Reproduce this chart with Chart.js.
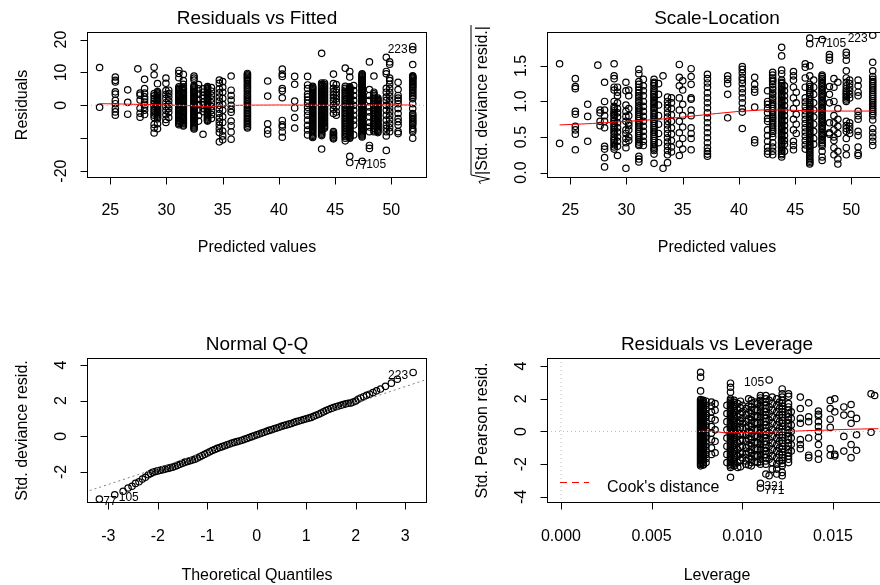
<!DOCTYPE html>
<html>
<head>
<meta charset="utf-8">
<script src="https://cdn.jsdelivr.net/npm/chart.js@4.4.0/dist/chart.umd.min.js"></script>
<style>
  html, body { margin: 0; padding: 0; background: #fff; }
  #wrap { position: relative; width: 880px; height: 585px; overflow: hidden; }
  canvas { position: absolute; }
</style>
</head>
<body>
<div id="wrap">
  <canvas id="rvf" width="440" height="260" style="left:0;top:0"></canvas>
  <canvas id="sl" width="460" height="260" style="left:440px;top:0"></canvas>
  <canvas id="qq" width="440" height="260" style="left:0;top:326px"></canvas>
  <canvas id="lev" width="460" height="260" style="left:440px;top:326px"></canvas>
</div>
<script>
const FONT = '"Liberation Sans", Arial, Helvetica, sans-serif';

// fitted values: one entry per vertical strip (shared by the two top panels)
const fittedCols = [24.05, 25.45, 26.55, 27.45, 27.65, 28.05, 28.9, 29.2, 29.95, 30.2,
  31.1, 31.5, 32.45, 32.85, 33.25, 33.65, 34.0, 34.7, 35.0, 35.75,
  37.2, 39.0, 40.3, 41.4, 42.55, 43.0, 43.8, 44.05, 44.85, 45.1,
  45.9, 46.3, 46.65, 47.4, 48.05, 48.45, 48.8, 49.55, 49.85, 50.6, 51.9];

// residuals in each strip
const residCols = [
  [11.5, -0.6],
  [8.6, 7.6, 7.1, 4.1, 3.4, 1.5, 0.5, -1.0, -2.0, -3.0],
  [4.7, 0.9, -2.7],
  [11.1],
  [3.7, 3.1, 1.6, -0.9, -2.4, -3.6],
  [7.9, 5.1, 3.7, 2.6, 1.9, 1.0, 0.1, -0.6, -1.5, -2.8],
  [11.6, 9.3, 3.6, 2.9, 2.1, 1.3, 0.6, -0.2, -0.9, -1.6, -2.3, -3.0, -3.7, -5.8, -6.9, -8.4],
  [6.6, 4.2, 3.4, 2.6, 1.8, 1.1, 0.3, -0.5, -1.2, -1.9, -2.6, -3.3, -4.1, -5.6, -7.1,
    3.8, 3.0, 2.2, 1.45, 0.7, -0.1, -0.85, -1.55, -2.25, -2.95, -3.7],
  [8.3, 6.7, 4.5, 3.3, 2.1, 0.8, -0.4, -1.6, -2.9, -4.3, -5.2],
  [4.6, 3.6, 2.5, 1.4, 0.2, -1.0, -2.1, -3.7],
  [10.6, 9.7, 8.4, 5.6, 4.8, 4.1, 3.4, 2.6, 1.9, 1.2, 0.5, -0.2, -0.9, -1.6, -2.4, -3.1, -3.8, -4.5, -5.1, -5.9,
    5.2, 4.45, 3.75, 3.0, 2.25, 1.55, 0.85, 0.15, -0.55, -1.25, -2.0, -2.75, -3.45, -4.15, -4.8, -5.5],
  [9.4, 7.5, 6.4, 5.1, 4.3, 3.5, 2.8, 2.0, 1.4, 0.7, 0.0, -0.7, -1.5, -2.1, -2.9, -3.6, -4.2, -5.0, -5.6, -6.3,
    5.5, 4.7, 3.9, 3.15, 2.4, 1.7, 1.05, 0.35, -0.35, -1.1, -1.8, -2.5, -3.25, -3.9, -4.6, -5.3, -6.0],
  [8.9, 8.3, 7.7, 6.1, 5.3, 4.6, 3.9, 3.1, 2.4, 1.7, 1.0, 0.3, -0.4, -1.1, -1.9, -2.6, -3.2, -3.9, -4.6, -5.3, -6.0, -6.6, -7.2,
    5.7, 4.95, 4.25, 3.5, 2.75, 2.05, 1.35, 0.65, -0.05, -0.75, -1.5, -2.25, -2.9, -3.55, -4.25, -4.95, -5.65, -6.3, -6.9],
  [6.3, 5.0, 3.4, 1.8, 0.2, -1.4, -3.1, -4.8],
  [5.0, 4.0, 3.0, 2.1, 1.0, 0.1, -1.0, -1.9, -8.8],
  [5.7, 5.0, 4.3, 3.6, 2.9, 2.1, 1.4, 0.7, 0.0, -0.7, -1.4, -2.1, -2.8, -3.5, -4.2, -4.8,
    5.35, 4.65, 3.95, 3.25, 2.5, 1.75, 1.05, 0.35, -0.35, -1.05, -1.75, -2.45, -3.15, -3.85, -4.5],
  [5.4, 4.3, 3.1, 1.9, 0.8, -0.4, -1.6, -2.8, -4.0],
  [7.7, 6.7, 5.0, 3.8, 2.5, 1.3, 0.0, -1.2, -2.5, -3.8, -5.0, -6.0, -7.1, -8.3, -11.1],
  [7.2, 5.5, 4.0, 2.1, 0.3, -1.5, -3.5, -5.2, -7.8, -9.3, -10.5],
  [8.9, 4.6, 3.0, 1.6, 0.0, -1.2, -2.1, -4.8, -6.2, -8.1, -10.3],
  [9.7, 8.9, 8.1, 7.2, 6.1, 5.1, 4.1, 3.0, 2.0, 1.0, 0.0, -1.0, -2.0, -3.0, -4.0, -5.0, -6.0, -6.9,
    9.3, 8.5, 7.6, 6.6, 5.6, 4.6, 3.5, 2.5, 1.5, 0.5, -0.5, -1.5, -2.5, -3.5, -4.5, -5.5, -6.5],
  [7.4, 2.8, -5.6, -7.6, -8.7],
  [11.0, 9.5, 8.8, 5.1, 4.4, 2.3, -4.6, -5.9, -6.6, -8.1, -9.7],
  [8.8, 6.4, 1.3, -0.8, -3.7, -6.9],
  [8.8, 6.2, 5.1, 3.4, 2.6, 1.6, 0.6, -0.6, -1.8, -3.0, -4.5, -6.1, -7.5, -9.0],
  [5.8, 5.1, 4.4, 3.7, 3.0, 2.3, 1.6, 0.9, 0.2, -0.5, -1.2, -1.9, -2.6, -3.3, -4.0, -4.7, -5.4, -6.1, -6.8, -7.5, -8.3, -9.1, -9.8,
    5.45, 4.75, 4.05, 3.35, 2.65, 1.95, 1.25, 0.55, -0.15, -0.85, -1.55, -2.25, -2.95, -3.65, -4.35, -5.05, -5.75, -6.45, -7.15, -7.9, -8.7, -9.45],
  [15.8, 6.8, 6.0, 5.2, 4.4, 3.6, 2.8, 2.0, 1.2, 0.4, -0.4, -1.2, -2.0, -2.8, -3.6, -4.4, -5.2, -6.0, -6.8, -7.6, -8.4, -9.2, -13.3,
    6.4, 5.6, 4.8, 4.0, 3.2, 2.4, 1.6, 0.8, 0.0, -0.8, -1.6, -2.4, -3.2, -4.0, -4.8, -5.6, -6.4, -7.2, -8.0, -8.8],
  [6.8, 5.8, 4.8, 3.8, 2.8, 1.8, 0.8, -0.2, -1.2, -2.2, -3.2, -4.2, -5.2, -6.2, -7.0,
    6.3, 5.3, 4.3, 3.3, 2.3, 1.3, 0.3, -0.7, -1.7, -2.7, -3.7, -4.7, -5.7, -6.6],
  [9.5, 6.6, 5.2, 4.2, 3.2, 2.2, 1.2, 0.0, -1.2, -2.5, -8.0, -8.8, -9.6, -10.2, -8.4, -9.2, -9.9],
  [6.3, 5.0, 4.0, 3.0, 2.0, 1.0, -0.5, -2.0, -3.0],
  [11.3, 5.8, 4.6, 3.6, 2.5, 1.5, 0.5, -0.5, -1.5, -2.5, -3.5, -4.5, -5.5, -6.5, -7.5, -8.5, -9.5, -10.8,
    5.2, 4.1, 3.0, 2.0, 1.0, 0.0, -1.0, -2.0, -3.0, -4.0, -5.0, -6.0, -7.0, -8.0, -9.0, -10.0],
  [10.3, 8.6, 5.6, 5.0, 4.4, 3.8, 3.2, 2.6, 2.0, 1.4, 0.8, 0.2, -0.4, -1.0, -1.6, -2.2, -2.8, -3.4, -4.0, -4.6, -5.2, -5.8, -6.4, -7.0, -7.6, -8.2, -8.8, -9.4, -10.0, -15.5, -17.4,
    5.3, 4.7, 4.1, 3.5, 2.9, 2.3, 1.7, 1.1, 0.5, -0.1, -0.7, -1.3, -1.9, -2.5, -3.1, -3.7, -4.3, -4.9, -5.5, -6.1, -6.7, -7.3, -7.9, -8.5, -9.1, -9.7],
  [6.0, 4.5, 3.0, 1.5, 0.0, -1.5, -3.0, -4.5, -6.0, -9.0],
  [9.6, 9.0, 8.4, 7.8, 7.2, 6.6, 6.0, 5.4, 4.8, 4.2, 3.6, 3.0, 2.4, 1.8, 1.2, 0.6, 0.0, -0.6, -1.2, -1.8, -2.4, -3.0, -3.6, -4.2, -4.8, -5.4, -6.0, -6.6, -7.2, -7.8, -8.4, -9.0, -9.6, -17.0,
    9.3, 8.7, 8.1, 7.5, 6.9, 6.3, 5.7, 5.1, 4.5, 3.9, 3.3, 2.7, 2.1, 1.5, 0.9, 0.3, -0.3, -0.9, -1.5, -2.1, -2.7, -3.3, -3.9, -4.5, -5.1, -5.7, -6.3, -6.9, -7.5, -8.1, -8.7, -9.3],
  [13.2, 4.8, 3.0, 1.5, -0.5, -2.0, -3.5, -5.2, -6.6, -8.0, -12.2, -13.1],
  [8.9, 4.0, 3.0, 2.0, 1.0, 0.0, -1.0, -2.0, -3.0, -4.0, -5.0, -6.0, -7.0, -8.0,
    3.5, 2.5, 1.5, 0.5, -0.5, -1.5, -2.5, -3.5, -4.5, -5.5, -6.5, -7.5],
  [2.2, 1.5, 0.8, 0.1, -0.6, -1.3, -2.0, -2.7, -3.4, -4.1, -4.8, -5.5, -6.2, -6.9, -7.6, -8.3,
    1.85, 1.15, 0.45, -0.25, -0.95, -1.65, -2.35, -3.05, -3.75, -4.45, -5.15, -5.85, -6.55, -7.25, -7.95],
  [14.6, 10.3, 9.6, 5.2, 4.0, 2.5, 1.5, 0.0, -1.5, -3.0, -4.5, -6.0, -7.0, -8.0, -9.3, -13.7],
  [13.2, 12.5, 8.3, 7.5, 6.4, 5.2, 4.0, 2.8, 1.6, 0.4, -0.8, -2.0, -3.2, -4.4, -5.6, -6.8, -8.0],
  [7.0, 4.8, 3.0, 2.2, 1.5, 0.5, -1.0, -2.5, -4.0, -5.0, -6.0, -8.0, -8.6],
  [17.9, 16.9, 12.4, 9.0, 8.5, 8.0, 7.2, 6.5, 5.8, 5.0, 4.0, 3.0, 2.0, 0.5, -1.0, -2.5, -3.5, -4.5, -5.5, -7.0, -8.0, -10.0,
    8.75, 8.25, 7.6, 6.85, 6.15, 5.4, 4.5, 3.5, 2.5, -3.0, -4.0, -5.0, -6.0, -7.5]
];

// sqrt(|std. deviance residual|) in each strip
const sqrtResidCols = [
  [1.53, 0.41],
  [1.32, 1.21, 1.18, 0.86, 0.82, 0.65, 0.6, 0.54, 0.32],
  [0.96, 0.79, 0.44],
  [1.51],
  [0.88, 0.84, 0.72, 0.66],
  [1.27, 1.0, 0.88, 0.8, 0.72, 0.63, 0.37, 0.33, 0.21, 0.08],
  [1.53, 1.36, 1.32, 1.2, 1.16, 1.0, 0.93, 0.87, 0.82, 0.77, 0.72, 0.66, 0.6, 0.54, 0.47, 0.42, 0.36, 0.33,
    0.9, 0.84, 0.8, 0.74, 0.69, 0.63, 0.57, 0.5, 0.45, 0.39],
  [1.2, 1.13, 1.08, 0.98, 0.9, 0.84, 0.78, 0.7, 0.63, 0.57, 0.5, 0.44, 0.37, 0.24],
  [1.27, 1.15, 0.95, 0.86, 0.79, 0.72, 0.6, 0.55, 0.48, 0.42, 0.35, 0.06],
  [1.16, 1.08, 0.9, 0.8, 0.7, 0.66, 0.6, 0.5, 0.45],
  [1.45, 1.39, 1.28, 1.2, 1.12, 1.05, 0.98, 0.91, 0.85, 0.79, 0.73, 0.67, 0.61, 0.55, 0.49, 0.43, 0.38, 0.23, 0.19, 0.15,
    1.24, 1.16, 1.08, 1.01, 0.94, 0.88, 0.82, 0.76, 0.7, 0.64, 0.58, 0.52, 0.46, 0.4],
  [1.31, 1.22, 1.15, 1.08, 1.0, 0.93, 0.86, 0.79, 0.72, 0.65, 0.58, 0.51, 0.44, 0.38],
  [1.31, 1.27, 1.22, 1.15, 1.1, 1.05, 1.0, 0.95, 0.9, 0.84, 0.78, 0.72, 0.66, 0.6, 0.54, 0.48, 0.42, 0.36, 0.31, 0.26, 0.13,
    1.25, 1.18, 1.12, 1.07, 1.02, 0.97, 0.92, 0.87, 0.81, 0.75, 0.69, 0.63, 0.57, 0.51, 0.45, 0.39, 0.33],
  [1.25, 1.1, 0.95, 0.8, 0.68, 0.55, 0.42],
  [1.36, 0.06],
  [1.06, 1.0, 0.95, 0.9, 0.84, 0.78, 0.72, 0.67, 0.61, 0.55, 0.49, 0.43, 0.37, 0.31, 0.25, 0.14],
  [1.05, 0.98, 0.9, 0.81, 0.72, 0.63, 0.54, 0.45, 0.36, 0.29],
  [1.52, 1.34, 1.22, 1.05, 0.88, 0.72, 0.56, 0.4, 0.24],
  [1.29, 1.16, 0.96, 0.8, 0.64, 0.48, 0.33],
  [1.46, 1.35, 1.24, 1.05, 1.03, 0.88, 0.8, 0.63, 0.55, 0.48, 0.32],
  [1.38, 1.32, 1.26, 1.2, 1.12, 1.05, 0.98, 0.91, 0.84, 0.77, 0.7, 0.63, 0.56, 0.49, 0.42, 0.35, 0.3, 0.26, 0.23],
  [1.36, 1.31, 1.25, 1.1, 0.77],
  [1.49, 1.45, 1.4, 1.34, 1.3, 1.25, 1.18, 1.12, 1.05, 0.98, 0.9, 0.85, 0.62],
  [1.34, 1.24, 1.17, 1.13, 0.92, 0.46, 0.42],
  [1.15, 1.0, 0.96, 0.9, 0.84, 0.76, 0.72, 0.6, 0.52, 0.44, 0.36, 0.3, 0.26],
  [1.41, 1.37, 1.33, 1.28, 1.2, 1.13, 1.06, 0.99, 0.93, 0.87, 0.81, 0.76, 0.7, 0.64, 0.58, 0.5, 0.42, 0.36, 0.3, 0.25,
    1.3, 1.24, 1.17, 1.1, 1.03, 0.96, 0.9, 0.84, 0.78, 0.73, 0.67, 0.61, 0.55],
  [1.76, 1.64, 1.44, 1.39, 1.27, 1.22, 1.17, 1.12, 1.07, 1.02, 0.97, 0.92, 0.87, 0.82, 0.77, 0.72, 0.67, 0.62, 0.57, 0.52, 0.47, 0.42, 0.37, 0.32, 0.27, 0.22,
    1.3, 1.25, 1.2, 1.15, 1.1, 1.05, 1.0, 0.95, 0.9, 0.85, 0.8, 0.75, 0.7, 0.65, 0.6, 0.55, 0.5, 0.45, 0.4, 0.35, 0.3, 0.25],
  [1.22, 1.15, 1.08, 1.01, 0.94, 0.87, 0.8, 0.73, 0.66, 0.59, 0.52, 0.45, 0.4, 0.3],
  [1.42, 1.36, 1.3, 1.2, 1.05, 0.9, 0.75, 0.6, 0.44, 0.38, 0.32],
  [1.13, 0.98, 0.82, 0.68, 0.55],
  [1.53, 1.48, 1.33, 1.2, 1.05, 0.99, 0.93, 0.87, 0.81, 0.75, 0.69, 0.63, 0.57, 0.51, 0.45, 0.39, 0.33],
  [1.89, 1.81, 1.5, 1.36, 1.21, 1.15, 1.1, 1.04, 0.98, 0.93, 0.88, 0.83, 0.78, 0.73, 0.68, 0.63, 0.58, 0.53, 0.48, 0.43, 0.38, 0.33, 0.28, 0.23, 0.18, 0.14, 0.12,
    1.24, 1.18, 1.12, 1.07, 1.01, 0.96, 0.9, 0.85, 0.8, 0.75, 0.7, 0.65, 0.6, 0.55, 0.5, 0.45, 0.4, 0.35, 0.3, 0.25, 0.2, 0.16],
  [1.3, 1.2, 1.1, 0.98, 0.88, 0.78, 0.68, 0.58, 0.48, 0.4],
  [1.87, 1.37, 1.32, 1.27, 1.22, 1.17, 1.12, 1.07, 1.02, 0.97, 0.92, 0.87, 0.82, 0.77, 0.72, 0.67, 0.62, 0.57, 0.52, 0.47, 0.42, 0.37, 0.3, 0.22, 0.17,
    1.35, 1.3, 1.25, 1.2, 1.15, 1.1, 1.05, 1.0, 0.95, 0.9, 0.85, 0.8, 0.75, 0.7, 0.65, 0.6, 0.55, 0.5, 0.45, 0.4],
  [1.66, 1.62, 1.58, 1.21, 1.1, 0.98, 0.7, 0.56, 0.54],
  [1.32, 1.2, 1.0, 0.8, 0.7, 0.6, 0.5, 0.45, 0.35, 0.25],
  [1.27, 0.9, 0.75, 0.65, 0.55, 0.3, 0.19, 0.12],
  [1.69, 1.65, 1.58, 1.43, 1.33, 1.22, 1.15, 1.1, 1.05, 1.0, 0.72, 0.66, 0.62, 0.58, 0.48, 0.35, 0.25,
    1.27, 1.18, 1.12, 1.07, 1.02],
  [1.3, 1.25, 1.2, 1.15, 1.1, 1.05, 0.7, 0.65, 0.6, 0.55],
  [1.3, 1.22, 1.13, 1.08, 0.86, 0.8, 0.75, 0.58, 0.52, 0.36, 0.27, 0.24],
  [1.93, 1.55, 1.43, 1.35, 1.28, 1.22, 1.16, 1.1, 1.04, 0.98, 0.92, 0.86, 0.8, 0.74, 0.62, 0.56, 0.5, 0.44, 0.38,
    1.31, 1.25, 1.19, 1.13, 1.07, 1.01, 0.95, 0.89, 0.83]
];

// red smoothers
const rvfSmoothX = [24.05, 26, 28, 30, 32, 33, 34, 35, 37, 40, 43, 45, 47, 49, 51.9];
const rvfSmoothY = [0.5, 0.4, 0.25, 0.1, -0.1, -0.3, -0.3, -0.1, 0.05, 0.1, 0.05, 0.0, 0.0, 0.1, 0.1];
const slSmoothX = [24.05, 27, 30, 33, 35, 38, 40, 42, 44, 46, 48, 50, 51.9];
const slSmoothY = [0.67, 0.69, 0.72, 0.75, 0.78, 0.83, 0.86, 0.88, 0.88, 0.87, 0.865, 0.865, 0.865];

// normal Q-Q
const qqTheoretical = [-3.18, -2.87, -2.70, -2.60, -2.52, -2.45, -2.38, -2.31, -2.25, -2.19, -2.14, -2.10,
  -2.05, -2.00, -1.95, -1.90, -1.85, -1.80, -1.75, -1.70, -1.65, -1.60, -1.55, -1.50, -1.45, -1.40,
  -1.35, -1.30, -1.25, -1.20, -1.15, -1.10, -1.05, -1.00, -0.95, -0.90, -0.85, -0.80, -0.75, -0.70,
  -0.65, -0.60, -0.55, -0.50, -0.45, -0.40, -0.35, -0.30, -0.25, -0.20, -0.15, -0.10, -0.05, 0.00,
  0.05, 0.10, 0.15, 0.20, 0.25, 0.30, 0.35, 0.40, 0.45, 0.50, 0.55, 0.60, 0.65, 0.70, 0.75, 0.80,
  0.85, 0.90, 0.95, 1.00, 1.05, 1.10, 1.15, 1.20, 1.25, 1.30, 1.35, 1.40, 1.45, 1.50, 1.55, 1.60,
  1.65, 1.70, 1.75, 1.80, 1.85, 1.90, 1.95, 2.00,
  2.05, 2.10, 2.16, 2.22, 2.28, 2.35, 2.42, 2.50, 2.60, 2.72, 2.84, 3.16];
const qqStdResid = [-3.52, -3.28, -3.08, -2.90, -2.80, -2.64, -2.55, -2.40, -2.30, -2.16, -2.08, -2.02,
  -1.98, -1.94, -1.90, -1.87, -1.84, -1.80, -1.77, -1.73, -1.68, -1.63, -1.57, -1.51, -1.45, -1.41,
  -1.37, -1.33, -1.28, -1.22, -1.15, -1.08, -1.01, -0.94, -0.87, -0.80, -0.74, -0.68, -0.63, -0.58,
  -0.53, -0.48, -0.43, -0.38, -0.34, -0.30, -0.26, -0.22, -0.17, -0.12, -0.07, -0.02, 0.03, 0.08,
  0.13, 0.18, 0.23, 0.28, 0.33, 0.37, 0.42, 0.46, 0.51, 0.56, 0.60, 0.64, 0.68, 0.72, 0.77, 0.82,
  0.86, 0.90, 0.94, 0.98, 1.02, 1.06, 1.12, 1.18, 1.24, 1.30, 1.37, 1.44, 1.50, 1.56, 1.61, 1.66,
  1.70, 1.74, 1.78, 1.82, 1.85, 1.87, 1.92, 1.98,
  2.08, 2.15, 2.22, 2.30, 2.36, 2.45, 2.55, 2.65, 2.80, 2.98, 3.20, 3.58];
const qqLineX = [-3.47, 3.45];
const qqLineY = [-3.13, 3.20];

// residuals vs leverage
const levCols = [0.0077, 0.00785, 0.0080, 0.0083, 0.0085, 0.00935, 0.00955, 0.00975, 0.0100, 0.0102,
  0.0105, 0.0107, 0.0110, 0.0113, 0.01148, 0.0119, 0.0122, 0.01255, 0.0127, 0.0132,
  0.01366, 0.0142, 0.01485, 0.0151, 0.0156, 0.0160, 0.0163, 0.0171, 0.0173,
  0.00915, 0.0099, 0.01035, 0.01085, 0.01165, 0.01205];
const pearsonCols = [
  [3.62, 3.32, 2.48, 1.95, 1.8, 1.65, 1.5, 1.35, 1.2, 1.05, 0.9, 0.75, 0.6, 0.45, 0.3, 0.15, 0.0, -0.15, -0.3, -0.45, -0.6, -0.75, -0.9, -1.05, -1.2, -1.35, -1.5, -1.65, -1.8, -1.95, -2.1,
    1.88, 1.72, 1.58, 1.42, 1.28, 1.12, 0.98, 0.82, 0.68, 0.52, 0.38, 0.22, 0.08, -0.08, -0.22, -0.38, -0.52, -0.68, -0.82, -0.98, -1.12, -1.28, -1.42, -1.58, -1.72, -1.88, -2.02],
  [1.9, 1.7, 1.5, 1.3, 1.1, 0.9, 0.7, 0.5, 0.3, 0.1, -0.1, -0.3, -0.5, -0.7, -0.9, -1.1, -1.3, -1.5, -1.7, -1.9, -2.05,
    1.8, 1.6, 1.4, 1.2, 1.0, 0.8, 0.6, 0.4, 0.2, 0.0, -0.2, -0.4, -0.6, -0.8, -1.0, -1.2, -1.4, -1.6, -1.8, -2.0],
  [1.85, 1.6, 1.35, 1.1, 0.85, 0.6, 0.35, 0.1, -0.15, -0.4, -0.65, -0.9, -1.15, -1.4, -1.65, -1.9],
  [1.8, 1.55, 1.2, 0.8, 0.3, -0.1, -0.5, -1.0, -1.4],
  [1.7, 1.3, 0.7, 0.1, -0.6, -1.3],
  [2.95, 2.7, 2.4, 2.0, 1.8, 1.6, 1.4, 1.2, 1.0, 0.8, 0.6, 0.4, 0.2, 0.0, -0.2, -0.4, -0.6, -0.8, -1.0, -1.2, -1.4, -1.6, -1.8, -2.0, -2.2, -2.8,
    1.9, 1.7, 1.5, 1.3, 1.1, 0.9, 0.7, 0.5, 0.3, 0.1, -0.1, -0.3, -0.5, -0.7, -0.9, -1.1, -1.3, -1.5, -1.7, -1.9, -2.1],
  [1.9, 1.65, 1.4, 1.15, 0.9, 0.65, 0.4, 0.15, -0.1, -0.35, -0.6, -0.85, -1.1, -1.35, -1.6, -1.85, -2.1,
    1.78, 1.52, 1.28, 1.02, 0.78, 0.52, 0.28, 0.02, -0.22, -0.48, -0.72, -0.98, -1.22, -1.48, -1.72, -1.98],
  [1.7, 1.3, 0.9, 0.5, 0.1, -0.3, -0.7, -1.1, -1.5, -1.9, -2.2],
  [1.6, 1.2, 0.8, 0.5, 0.2, -0.2, -0.5, -0.9, -1.3, -1.6],
  [1.4, 1.0, 0.6, 0.2, -0.2, -0.6, -1.0, -1.4, -1.8, -2.0],
  [1.9, 1.5, 1.1, 0.7, 0.3, -0.1, -0.5, -0.9, -1.3, -1.7, -2.1,
    1.7, 1.3, 0.9, 0.5, 0.1, -0.3, -0.7, -1.1, -1.5, -1.9],
  [1.8, 1.35, 0.95, 0.55, 0.15, -0.25, -0.65, -1.05, -1.45, -1.85],
  [2.2, 1.9, 1.6, 1.3, 1.0, 0.7, 0.4, 0.1, -0.2, -0.5, -0.8, -1.1, -1.4, -1.7, -2.0, -3.17, -3.45,
    2.05, 1.75, 1.45, 1.15, 0.85, 0.55, 0.25, -0.05, -0.35, -0.65, -0.95, -1.25, -1.55, -1.85],
  [2.2, 1.8, 1.4, 1.0, 0.6, 0.2, -0.2, -0.6, -1.0, -1.4, -1.8, -2.6,
    2.0, 1.6, 1.2, 0.8, 0.4, 0.0, -0.4, -0.8, -1.2, -1.6, -2.0],
  [3.15, 1.9, 1.5, 1.1, 0.7, 0.3, -0.1, -0.5, -0.9, -1.3, -1.7, -2.7],
  [2.0, 1.6, 1.2, 0.8, 0.4, 0.0, -0.4, -0.8, -1.2, -1.6, -2.0, -2.3, -2.6],
  [2.6, 2.3, 1.9, 1.55, 1.2, 0.85, 0.5, 0.15, -0.2, -0.55, -0.9, -1.25, -1.6, -1.95, -2.5, -2.7,
    2.1, 1.72, 1.38, 1.02, 0.68, 0.32, -0.02, -0.38, -0.72, -1.08, -1.42, -1.78, -2.1],
  [2.3, 2.15, 1.7, 1.3, 0.9, 0.5, 0.1, -0.3, -0.7, -1.1, -1.5, -1.9,
    1.5, 1.1, 0.7, 0.3, -0.1, -0.5, -0.9, -1.3, -1.7],
  [1.2, 0.8, 0.4, 0.0, -0.4, -0.8, -1.2],
  [2.1, 1.4, 0.8, 0.5, -0.5, -0.8, -1.05],
  [1.75, 0.9, 0.6, -0.4, -1.45, -1.6],
  [1.25, 1.05, 0.95, 0.6, 0.3, 0.0, -0.35, -0.8, -1.35, -1.7],
  [1.9, 1.4, 0.75, 0.25, -1.05, -1.45],
  [2.0, 1.2, -1.4, -1.5],
  [1.5, 1.0, -0.3, -1.2],
  [1.65, 1.05, 0.5, -0.8, -1.6],
  [0.8, -0.2, -1.15],
  [2.3, -0.05],
  [2.2],
  [1.6, 1.1, 0.6, 0.1, -0.4, -0.9, -1.4, -1.9],
  [1.85, 1.45, 1.05, 0.65, 0.25, -0.15, -0.55, -0.95, -1.35, -1.75, -2.15],
  [2.0, 1.55, 1.15, 0.75, 0.35, -0.05, -0.45, -0.85, -1.25, -1.65, -2.05],
  [1.7, 1.3, 0.9, 0.5, 0.1, -0.3, -0.7, -1.1, -1.5, -1.9],
  [2.1, 1.7, 1.3, 0.9, 0.5, 0.1, -0.3, -0.7, -1.1, -1.5, -1.9, -2.3],
  [1.8, 1.4, 1.0, 0.6, 0.2, -0.2, -0.6, -1.0, -1.4, -1.8]
];
const levSmoothX = [0.0077, 0.0085, 0.0090, 0.0096, 0.0105, 0.0115, 0.0125, 0.0135, 0.0145, 0.0155, 0.0165, 0.0175];
const levSmoothY = [0.02, 0.0, -0.08, -0.07, -0.05, -0.04, 0.0, 0.05, 0.08, 0.12, 0.15, 0.17];

function stripPoints(xs, cols) {
  const pts = [];
  xs.forEach((x, i) => cols[i].forEach(y => pts.push({ x, y })));
  return pts;
}
function xyPoints(xs, ys) {
  return xs.map((x, i) => ({ x, y: ys[i] }));
}

function frame(spec) {
  return {
    id: 'rFrame',
    afterDraw(chart) {
      const { ctx, chartArea: a, scales: { x, y } } = chart;
      const L = Math.round(a.left) + 0.5, R = Math.round(a.right) - 0.5;
      const T = Math.round(a.top) + 0.5, B = Math.round(a.bottom) - 0.5;
      ctx.save();
      ctx.strokeStyle = '#000';
      ctx.fillStyle = '#000';
      ctx.lineWidth = 1;
      ctx.setLineDash([]);
      ctx.strokeRect(L, T, R - L, B - T);

      ctx.beginPath();
      spec.xTicks.forEach(v => {
        const p = Math.round(x.getPixelForValue(v)) + 0.5;
        ctx.moveTo(p, B); ctx.lineTo(p, B + 7);
      });
      spec.yTicks.forEach(v => {
        const p = Math.round(y.getPixelForValue(v)) + 0.5;
        ctx.moveTo(L, p); ctx.lineTo(L - 7, p);
      });
      ctx.stroke();

      ctx.font = '16px ' + FONT;
      ctx.textAlign = 'center';
      ctx.textBaseline = 'alphabetic';
      spec.xTicks.forEach((v, i) => {
        ctx.fillText(spec.xLabels[i], x.getPixelForValue(v), a.bottom + spec.tickGap);
      });
      spec.yTicks.forEach((v, i) => {
        if (!spec.yLabels[i]) return;
        ctx.save();
        ctx.translate(a.left - 21, y.getPixelForValue(v));
        ctx.rotate(-Math.PI / 2);
        ctx.fillText(spec.yLabels[i], 0, 0);
        ctx.restore();
      });

      // axis titles
      const cx = (a.left + a.right) / 2, cy = (a.top + a.bottom) / 2;
      ctx.fillText(spec.xTitle, cx, a.bottom + spec.titleGap);
      ctx.save();
      ctx.translate(a.left - 60.5, cy);
      ctx.rotate(-Math.PI / 2);
      if (spec.sqrtTitle) {
        const t = '|' + spec.yTitle + '|';
        const w = ctx.measureText(t).width;
        const x0 = -(w + 9) / 2;
        ctx.beginPath();
        ctx.moveTo(x0, -6);
        ctx.lineTo(x0 + 2.5, -7.5);
        ctx.lineTo(x0 + 5, 3);
        ctx.lineTo(x0 + 9, -15.5);
        ctx.lineTo(x0 + 10 + w, -15.5);
        ctx.stroke();
        ctx.textAlign = 'left';
        ctx.fillText(t, x0 + 9, 0);
      } else {
        ctx.fillText(spec.yTitle, 0, 0);
      }
      ctx.restore();

      // main title
      ctx.font = '19px ' + FONT;
      ctx.textAlign = 'center';
      ctx.fillText(spec.title, cx, a.top - 8.5);

      // point ids
      ctx.font = '12px ' + FONT;
      ctx.textBaseline = 'middle';
      spec.ids.forEach(d => {
        const px = x.getPixelForValue(d.x), py = y.getPixelForValue(d.y) + 3;
        if (d.side === 'left') { ctx.textAlign = 'right'; ctx.fillText(d.text, px - 5, py); }
        else { ctx.textAlign = 'left'; ctx.fillText(d.text, px + 4, py); }
      });

      if (spec.legend) {
        ctx.strokeStyle = '#ff0000';
        ctx.setLineDash([7, 5]);
        ctx.beginPath();
        ctx.moveTo(a.left + 13, a.bottom - 20.5);
        ctx.lineTo(a.left + 42, a.bottom - 20.5);
        ctx.stroke();
        ctx.setLineDash([]);
        ctx.font = '16px ' + FONT;
        ctx.textAlign = 'left';
        ctx.textBaseline = 'alphabetic';
        ctx.fillText(spec.legend, a.left + 60, a.bottom - 11.5);
      }
      ctx.restore();
    }
  };
}

function makePanel(id, spec) {
  const datasets = [{
    type: 'scatter',
    data: spec.points,
    pointRadius: 3.2,
    pointBorderWidth: 1.2,
    pointBorderColor: '#000',
    pointBackgroundColor: 'rgba(0,0,0,0)',
    order: 3
  }];
  spec.lines.forEach(l => datasets.push({
    type: 'line',
    data: l.data,
    borderColor: l.color,
    borderWidth: 1,
    borderDash: l.dash || [],
    pointRadius: 0,
    fill: false,
    tension: 0,
    order: l.order
  }));
  new Chart(document.getElementById(id), {
    type: 'scatter',
    data: { datasets },
    options: {
      responsive: false,
      animation: false,
      events: [],
      devicePixelRatio: 1,
      layout: { autoPadding: false, padding: spec.pad },
      scales: {
        x: { type: 'linear', display: false, min: spec.xMin, max: spec.xMax },
        y: { type: 'linear', display: false, min: spec.yMin, max: spec.yMax }
      },
      plugins: { legend: { display: false }, tooltip: { enabled: false }, title: { display: false } }
    },
    plugins: [frame(spec)]
  });
}

const fitMin = 22.93, fitMax = 53.17;

makePanel('rvf', {
  pad: { left: 87, right: 13, top: 32, bottom: 82 },
  xMin: fitMin, xMax: fitMax, yMin: -22.1, yMax: 22.3,
  xTicks: [25, 30, 35, 40, 45, 50], xLabels: ['25', '30', '35', '40', '45', '50'],
  yTicks: [-20, -10, 0, 10, 20], yLabels: ['-20', '', '0', '10', '20'],
  title: 'Residuals vs Fitted', xTitle: 'Predicted values', yTitle: 'Residuals',
  tickGap: 36.5, titleGap: 74,
  points: stripPoints(fittedCols, residCols),
  lines: [
    { data: xyPoints(rvfSmoothX, rvfSmoothY), color: '#ff0000', order: 2 },
    { data: xyPoints([fitMin, fitMax], [0, 0]), color: '#bebebe', dash: [1, 3], order: 1 }
  ],
  ids: [
    { x: 51.9, y: 17.9, text: '223', side: 'left' },
    { x: 46.3, y: -17.4, text: '77', side: 'right' },
    { x: 47.4, y: -17.0, text: '105', side: 'right' }
  ]
});

makePanel('sl', {
  pad: { left: 107, right: 13, top: 32, bottom: 82 },
  xMin: fitMin, xMax: fitMax, yMin: -0.076, yMax: 1.976,
  xTicks: [25, 30, 35, 40, 45, 50], xLabels: ['25', '30', '35', '40', '45', '50'],
  yTicks: [0, 0.5, 1, 1.5], yLabels: ['0.0', '0.5', '1.0', '1.5'],
  title: 'Scale-Location', xTitle: 'Predicted values', yTitle: 'Std. deviance resid.', sqrtTitle: true,
  tickGap: 36.5, titleGap: 74,
  points: stripPoints(fittedCols, sqrtResidCols),
  lines: [
    { data: xyPoints(slSmoothX, slSmoothY), color: '#ff0000', order: 2 }
  ],
  ids: [
    { x: 46.3, y: 1.86, text: '77', side: 'right' },
    { x: 47.4, y: 1.86, text: '105', side: 'right' },
    { x: 51.9, y: 1.93, text: '223', side: 'left' }
  ]
});

makePanel('qq', {
  pad: { left: 87, right: 13, top: 32, bottom: 83 },
  xMin: -3.43, xMax: 3.44, yMin: -3.74, yMax: 4.39,
  xTicks: [-3, -2, -1, 0, 1, 2, 3], xLabels: ['-3', '-2', '-1', '0', '1', '2', '3'],
  yTicks: [-2, 0, 2, 4], yLabels: ['-2', '0', '2', '4'],
  title: 'Normal Q-Q', xTitle: 'Theoretical Quantiles', yTitle: 'Std. deviance resid.',
  tickGap: 37.5, titleGap: 76.5,
  points: xyPoints(qqTheoretical, qqStdResid),
  lines: [
    { data: xyPoints(qqLineX, qqLineY), color: '#808080', dash: [2, 3], order: 1 }
  ],
  ids: [
    { x: -3.18, y: -3.52, text: '77', side: 'right' },
    { x: -2.87, y: -3.28, text: '105', side: 'right' },
    { x: 3.16, y: 3.58, text: '223', side: 'left' }
  ]
});

makePanel('lev', {
  pad: { left: 107, right: 13, top: 32, bottom: 83 },
  xMin: -0.00077, xMax: 0.01798, yMin: -4.37, yMax: 4.49,
  xTicks: [0, 0.005, 0.01, 0.015], xLabels: ['0.000', '0.005', '0.010', '0.015'],
  yTicks: [-4, -2, 0, 2, 4], yLabels: ['-4', '-2', '0', '2', '4'],
  title: 'Residuals vs Leverage', xTitle: 'Leverage', yTitle: 'Std. Pearson resid.',
  tickGap: 37.5, titleGap: 76.5,
  points: stripPoints(levCols, pearsonCols),
  lines: [
    { data: xyPoints(levSmoothX, levSmoothY), color: '#ff0000', order: 2 },
    { data: xyPoints([-0.00077, 0.01798], [0, 0]), color: '#bebebe', dash: [1, 3], order: 1 },
    { data: xyPoints([0, 0], [-4.37, 4.49]), color: '#bebebe', dash: [1, 3], order: 1 }
  ],
  ids: [
    { x: 0.01148, y: 3.15, text: '105', side: 'left' },
    { x: 0.0110, y: -3.17, text: '321', side: 'right' },
    { x: 0.0110, y: -3.45, text: '771', side: 'right' }
  ],
  legend: "Cook's distance"
});
</script>
</body>
</html>
